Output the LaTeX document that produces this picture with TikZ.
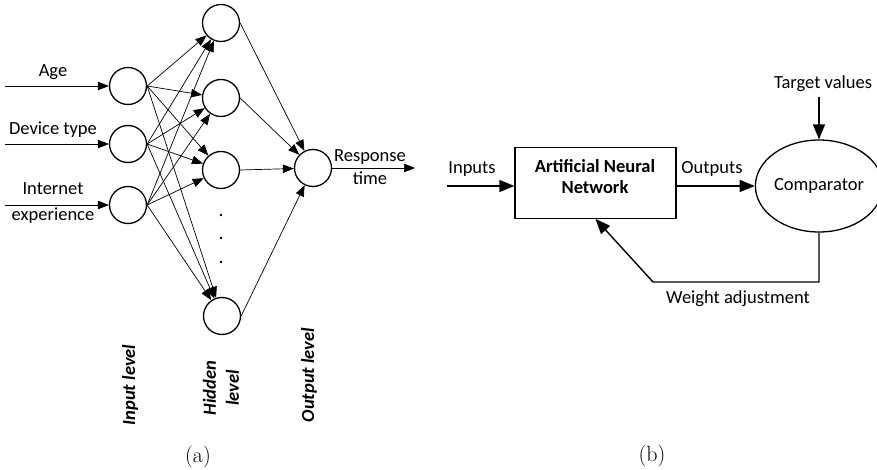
\documentclass[tikz,border=0pt]{standalone}
\usepackage{fontspec}
\newfontfamily\carl{Carlito}
\usetikzlibrary{arrows.meta,shapes.geometric}
\begin{document}
\begin{tikzpicture}[x=1pt,y=-1pt,
  neuron/.style={circle,draw,line width=1.3pt,minimum size=37pt,inner sep=0pt},
  lbl/.style={font=\carl\fontsize{18.5}{22}\selectfont,inner sep=0pt},
  vlbl/.style={font=\carl\bfseries\itshape\fontsize{18.5}{23}\selectfont,inner sep=0pt,rotate=90,align=center},
  con/.style={line width=0.7pt,-{Triangle[length=11pt,width=8.5pt]}},
  bcon/.style={line width=1.4pt,-{Triangle[length=15pt,width=12pt]}},
  subcap/.style={font=\fontsize{22}{26}\selectfont,inner sep=0pt,anchor=base}]
\useasboundingbox (0,0) rectangle (877,470);
% ---------- (a) ----------
\node[neuron] (in1) at (128,86) {};
\node[neuron] (in2) at (128,144) {};
\node[neuron] (in3) at (128,205) {};
\node[neuron] (h1) at (221,23) {};
\node[neuron] (h2) at (221,98) {};
\node[neuron] (h3) at (221,170) {};
\node[neuron] (h4) at (222,316) {};
\node[neuron] (out) at (313,168) {};
\coordinate (a1) at (5,86);
\coordinate (a2) at (5,144);
\coordinate (a3) at (5,205);
\draw[con] (a1) -- (in1);
\draw[con] (a2) -- (in2);
\draw[con] (a3) -- (in3);
\foreach \i in {1,2,3}{
  \foreach \j in {1,2,3,4}{
    \draw[con] (in\i.east) -- (h\j);
  }
}
\foreach \j in {1,2,3,4}{
  \draw[con] (h\j.east) -- (out);
}
\coordinate (rt) at (415,168);
\draw[con] (out) -- (rt);
\fill (221,215) circle (1.3pt);
\fill (221,238) circle (1.3pt);
\fill (221,262) circle (1.3pt);
\node[lbl,anchor=base] (lage) at (53,77) {Age};
\node[lbl,anchor=base] (ldev) at (53,135) {Device type};
\node[lbl,anchor=base] (lint) at (53,195) {Internet};
\node[lbl,anchor=base] (lexp) at (53,221) {experience};
\node[lbl,anchor=base] (lresp) at (370,162) {Response};
\node[lbl,anchor=base] (ltime) at (370,185) {time};
\node[vlbl] (vin) at (130,385) {Input level};
\node[vlbl] (vhid) at (221,388) {Hidden\\level};
\node[vlbl] (vout) at (309,375) {Output level};
\node[subcap] (capa) at (198,462) {(a)};
% ---------- (b) ----------
\node[draw,line width=1.3pt,minimum width=161pt,minimum height=71pt,inner sep=0pt] (ann) at (595.5,182.8) {};
\node[lbl,font=\carl\bfseries\fontsize{18.5}{22}\selectfont,anchor=base] (annt1) at (595,173) {Artificial Neural};
\node[lbl,font=\carl\bfseries\fontsize{18.5}{22}\selectfont,anchor=base] (annt2) at (595,194) {Network};
\node[ellipse,draw,line width=1.3pt,minimum width=108pt,minimum height=92pt,inner sep=0pt,font=\carl\fontsize{18.5}{22}\selectfont] (cmp) at (819,186) {Comparator};
\coordinate (inp) at (447,186);
\draw[bcon] (inp) -- (inp -| ann.west);
\node[lbl,anchor=base] (linp) at (472,174) {Inputs};
\draw[bcon] (ann.east |- cmp.west) -- (cmp.west);
\node[lbl,anchor=base] (lout) at (712,174) {Outputs};
\node[lbl,anchor=base] (ltgt) at (823,89) {Target values};
\coordinate (tgt) at (819,97);
\draw[bcon] (tgt) -- (cmp.north);
\coordinate (fb1) at (819,282);
\coordinate (fb2) at (653,282);
\draw[bcon] (cmp.south) -- (fb1) -- (fb2) -- (ann.south);
\node[lbl,anchor=base] (lwa) at (738,303) {Weight adjustment};
\node[subcap] (capb) at (652,461) {(b)};
\end{tikzpicture}
\end{document}
